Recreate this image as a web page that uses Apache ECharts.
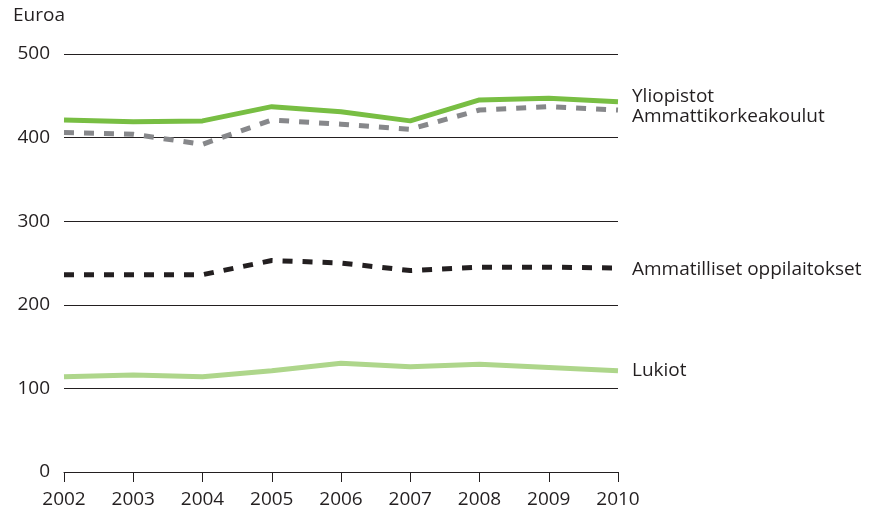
<!DOCTYPE html>
<html><head><meta charset="utf-8">
<script src="https://cdn.jsdelivr.net/npm/echarts@6/dist/echarts.min.js"></script>
<style>html,body{margin:0;padding:0;background:#fff}#c{width:870px;height:516px}</style>
</head><body><div id="c"></div>
<script>
const years = ['2002','2003','2004','2005','2006','2007','2008','2009','2010'];
const yliopistot = [421, 419, 420, 437, 431, 420, 445, 447, 443];
const amk = [406, 404, 392, 421, 416, 410, 433, 437, 433];
const ammatilliset = [236, 236, 236, 253, 250, 241, 245, 245, 244];
const lukiot = [114, 116, 114, 121, 130, 126, 129, 125, 121];
const yTicks = [0, 100, 200, 300, 400, 500];

const FONT = '"Open Sans", "Noto Sans", sans-serif';
const FS = 19;
const chart = echarts.init(document.getElementById('c'), null, {renderer:'canvas'});
function mk(name, data, color, type, dy) {
  return {
    name, type:'line', data, symbol:'none', animation:false,
    lineStyle:{color, width:5, type: type === 'dash' ? [10,10] : 'solid', cap:'butt'},
    endLabel:{show:true, formatter:name, color:'#231f20', fontSize:FS, fontFamily:FONT, offset:[14, dy], distance:0},
    z: 3
  };
}
chart.setOption({
  animation:false,
  grid:{left:64, right:252, top:54, bottom:44, containLabel:false},
  graphic:[{type:'text', left:13, top:6, style:{text:'Euroa', fontSize:FS, fontFamily:FONT, fill:'#231f20'}}],
  xAxis:{type:'category', data:years, boundaryGap:false,
    axisLine:{lineStyle:{color:'#231f20', width:1}},
    axisTick:{show:true, length:10, lineStyle:{color:'#231f20'}},
    axisLabel:{color:'#231f20', fontSize:FS, fontFamily:FONT, margin:18}},
  yAxis:{type:'value', min:yTicks[0], max:yTicks[yTicks.length-1], interval:100,
    axisLine:{show:false}, axisTick:{show:false},
    axisLabel:{color:'#231f20', fontSize:FS, fontFamily:FONT, margin:14},
    splitLine:{lineStyle:{color:'#231f20', width:1}}},
  series:[
    mk('Yliopistot', yliopistot, '#78be43', 'solid', -5),
    mk('Ammattikorkeakoulut', amk, '#87888b', 'dash', 7),
    mk('Ammatilliset oppilaitokset', ammatilliset, '#231f20', 'dash', 2),
    mk('Lukiot', lukiot, '#aed68b', 'solid', 0)
  ]
});
</script></body></html>
